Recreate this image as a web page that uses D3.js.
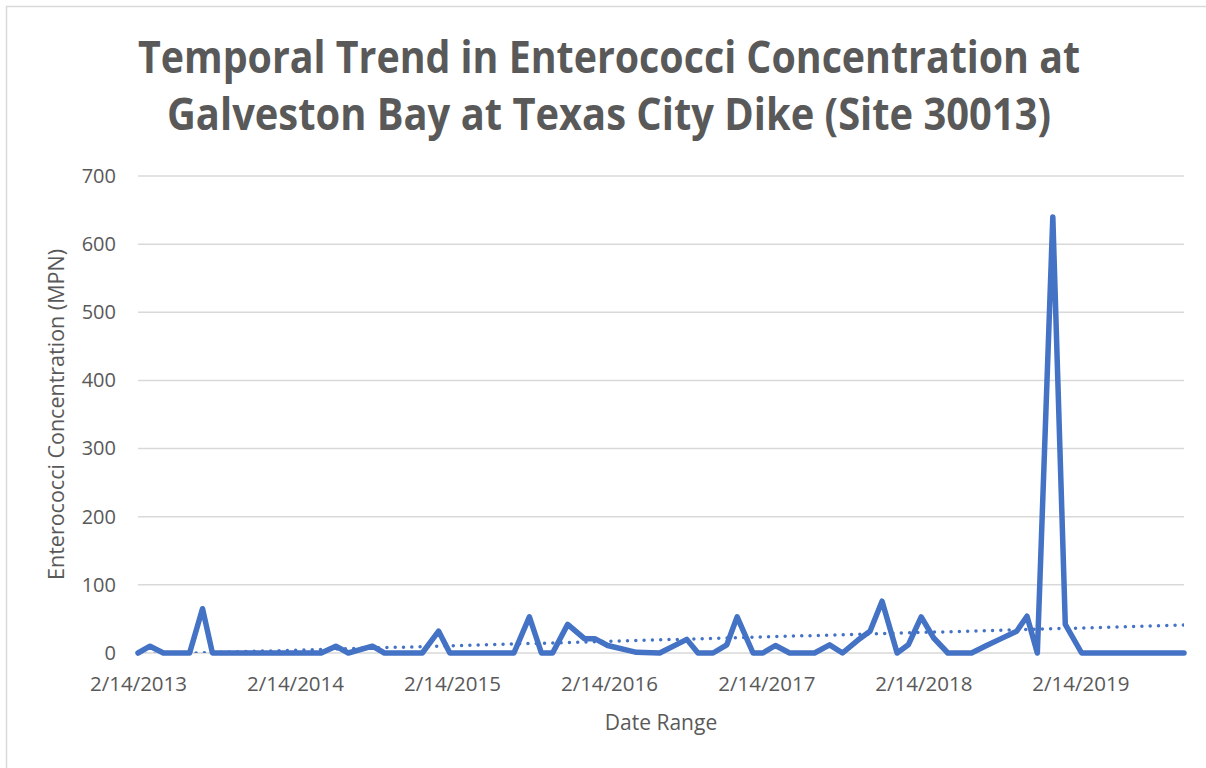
<!DOCTYPE html>
<html>
<head>
<meta charset="utf-8">
<script src="https://cdn.jsdelivr.net/npm/d3@7/dist/d3.min.js"></script>
<style>
  html, body { margin: 0; padding: 0; background: #fff; }
  svg { display: block; font-family: "Open Sans", "Noto Sans", sans-serif; }
</style>
</head>
<body>
<svg id="chart" width="1206" height="768"></svg>
<script>
const titleLines = [
  "Temporal Trend in Enterococci Concentration at",
  "Galveston Bay at Texas City Dike (Site 30013)"
];
const xTitle = "Date Range";
const yTitle = "Enterococci Concentration (MPN)";

// sample dates and concentrations
const sampleDates = [
  "2013-02-14", "2013-03-14", "2013-04-14", "2013-06-14", "2013-07-14", "2013-08-06",
  "2014-04-16", "2014-05-20", "2014-06-18", "2014-08-13", "2014-09-10", "2014-12-07",
  "2015-01-14", "2015-02-09", "2015-07-08", "2015-08-13", "2015-09-10", "2015-10-06",
  "2015-11-10", "2015-12-19", "2016-01-12", "2016-02-11", "2016-04-18", "2016-06-11",
  "2016-08-13", "2016-09-08", "2016-10-13", "2016-11-14", "2016-12-08", "2017-01-14",
  "2017-02-06", "2017-03-07", "2017-04-09", "2017-06-06", "2017-07-11", "2017-08-10",
  "2017-09-15", "2017-10-13", "2017-11-10", "2017-12-15", "2018-01-10", "2018-02-09",
  "2018-03-10", "2018-04-12", "2018-06-06", "2018-07-11", "2018-08-10", "2018-09-19",
  "2018-10-13", "2018-11-06", "2018-12-12", "2019-01-10", "2019-02-17", "2019-10-13"
];
const concentration = [
  0, 10, 0, 0, 65, 0,
  0, 10, 0, 10, 0, 0,
  32, 0, 0, 53, 0, 0,
  42, 21, 21, 11, 1, 0,
  20, 0, 0, 12, 53, 0,
  0, 11, 0, 0, 12, 0,
  19, 32, 76, 0, 12, 53,
  22, 0, 0, 11, 20, 32,
  54, 0, 640, 42, 0, 0
];

// linear trendline endpoints as drawn
const trendDates = ["2013-02-14", "2019-10-13"];
const trendValues = [-2.4, 41];

const yTicks = [0, 100, 200, 300, 400, 500, 600, 700];
const xTickDates = ["2013-02-14", "2014-02-14", "2015-02-14", "2016-02-14", "2017-02-14", "2018-02-14", "2019-02-14"];

(() => {
  const parse = d3.timeParse("%Y-%m-%d");
  const fmtTick = (d) => `${d.getMonth() + 1}/${d.getDate()}/${d.getFullYear()}`;

  const data = sampleDates.map((d, i) => ({ date: parse(d), value: concentration[i] }));
  const trend = trendDates.map((d, i) => ({ date: parse(d), value: trendValues[i] }));

  const svg = d3.select("#chart");
  const textColor = "#595959";
  const blue = "#4472C4";

  const pl = 138, pr = 1184, pt = 176, pb = 653;

  // chart area border
  svg.append("rect")
    .attr("x", 6.5).attr("y", 6.5)
    .attr("width", 1220).attr("height", 780)
    .attr("fill", "none")
    .attr("stroke", "#d9d9d9")
    .attr("stroke-width", 1.5);

  const x = d3.scaleTime()
    .domain([parse(sampleDates[0]), parse(sampleDates[sampleDates.length - 1])])
    .range([pl, pr]);
  const y = d3.scaleLinear().domain([0, 700]).range([pb, pt]);

  // title
  svg.append("g").selectAll("text")
    .data(titleLines)
    .join("text")
    .attr("x", 609)
    .attr("y", (d, i) => 73 + i * 57)
    .attr("text-anchor", "middle")
    .attr("font-size", 44)
    .attr("font-weight", 700)
    .attr("fill", textColor)
    .attr("textLength", (d, i) => (i === 0 ? 942 : 884))
    .attr("lengthAdjust", "spacingAndGlyphs")
    .text((d) => d);

  // gridlines
  svg.append("g")
    .selectAll("line")
    .data(yTicks)
    .join("line")
    .attr("x1", pl).attr("x2", pr)
    .attr("y1", (d) => y(d)).attr("y2", (d) => y(d))
    .attr("stroke", "#d9d9d9")
    .attr("stroke-width", 1.5);

  // y axis labels
  const yAxis = svg.append("g")
    .attr("transform", `translate(${pl - 22},0)`)
    .call(d3.axisLeft(y).tickValues(yTicks).tickSize(0).tickPadding(0));
  yAxis.select(".domain").remove();
  yAxis.selectAll("text")
    .attr("font-family", "Open Sans, sans-serif")
    .attr("font-size", 20)
    .attr("fill", textColor);

  // x axis labels
  const xAxis = svg.append("g")
    .attr("transform", `translate(0,${pb + 23})`)
    .call(d3.axisBottom(x).tickValues(xTickDates.map(parse)).tickFormat(fmtTick).tickSize(0).tickPadding(0));
  xAxis.select(".domain").remove();
  xAxis.selectAll("text")
    .attr("font-family", "Open Sans, sans-serif")
    .attr("font-size", 20.5)
    .attr("fill", textColor);

  // axis titles
  svg.append("text")
    .attr("x", (pl + pr) / 2)
    .attr("y", 730)
    .attr("text-anchor", "middle")
    .attr("font-size", 21)
    .attr("fill", textColor)
    .text(xTitle);

  svg.append("text")
    .attr("transform", `translate(64,${(pt + pb) / 2}) rotate(-90)`)
    .attr("text-anchor", "middle")
    .attr("font-size", 21.5)
    .attr("fill", textColor)
    .text(yTitle);

  // clip to plot area so the trendline stays above the axis
  svg.append("clipPath").attr("id", "plot-clip")
    .append("rect")
    .attr("x", pl).attr("y", pt - 10)
    .attr("width", pr - pl).attr("height", pb - pt + 10);

  const line = d3.line().x((d) => x(d.date)).y((d) => y(d.value));

  svg.append("path")
    .datum(trend)
    .attr("clip-path", "url(#plot-clip)")
    .attr("d", line)
    .attr("fill", "none")
    .attr("stroke", blue)
    .attr("stroke-width", 3.5)
    .attr("stroke-linecap", "round")
    .attr("stroke-dasharray", "0 8.3");

  svg.append("path")
    .datum(data)
    .attr("d", line)
    .attr("fill", "none")
    .attr("stroke", blue)
    .attr("stroke-width", 5.5)
    .attr("stroke-linejoin", "round")
    .attr("stroke-linecap", "round");
})();
</script>
</body>
</html>
